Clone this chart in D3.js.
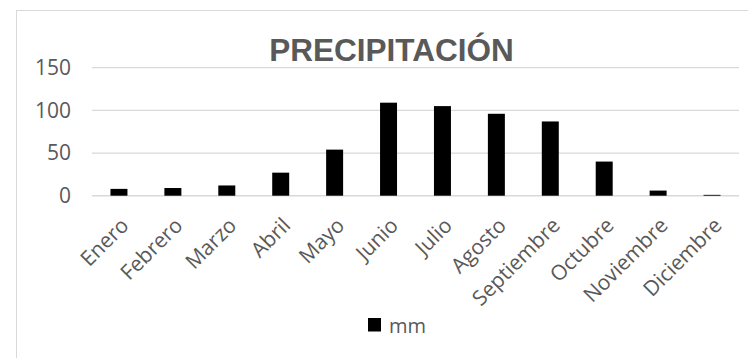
<!DOCTYPE html>
<html>
<head>
<meta charset="utf-8">
<script src="https://cdn.jsdelivr.net/npm/d3@7"></script>
<style>
  html, body { margin: 0; padding: 0; background: #fff; }
  svg { display: block; }
</style>
</head>
<body>
<svg id="chart" width="748" height="358"></svg>
<script>
// Monthly precipitation (mm)
const months = ["Enero", "Febrero", "Marzo", "Abril", "Mayo", "Junio", "Julio",
                "Agosto", "Septiembre", "Octubre", "Noviembre", "Diciembre"];
const rainfall = [8, 9, 12, 27, 54, 109, 105, 96, 87, 40, 6, 1];
const yTicks = [0, 50, 100, 150];
const chartTitle = "PRECIPITACIÓN";
const seriesName = "mm";

const svg = d3.select("#chart");
const textFont = "'Open Sans', 'DejaVu Sans', sans-serif";
const grey = "#595959";
const lineGrey = "#d9d9d9";

// Chart-area frame
svg.append("rect")
  .attr("x", 16.5).attr("y", 10.5)
  .attr("width", 760).attr("height", 360)
  .attr("fill", "#fff").attr("stroke", lineGrey).attr("stroke-width", 1);

const plot = { left: 92, right: 739, top: 67.7, bottom: 195.7 };

const x = d3.scaleBand()
  .domain(months)
  .range([plot.left, plot.right])
  .paddingInner(0.685)
  .paddingOuter(0.3425);

const y = d3.scaleLinear()
  .domain([0, 150])
  .range([plot.bottom, plot.top]);

// Horizontal gridlines (including the baseline)
svg.append("g")
  .selectAll("line")
  .data(yTicks)
  .join("line")
  .attr("x1", plot.left).attr("x2", plot.right)
  .attr("y1", d => y(d)).attr("y2", d => y(d))
  .attr("stroke", lineGrey)
  .attr("stroke-width", d => d === 0 ? 1.5 : 1.3);

// Y axis labels
const yAxis = d3.axisLeft(y).tickValues(yTicks).tickSize(0).tickPadding(0);
svg.append("g")
  .attr("transform", `translate(${plot.left - 21},0)`)
  .call(yAxis)
  .call(g => g.select(".domain").remove())
  .call(g => g.selectAll("text")
    .attr("fill", grey)
    .style("font-family", textFont)
    .style("font-size", "21px"));

// Bars
svg.append("g")
  .selectAll("rect")
  .data(months.map((m, i) => ({ month: m, value: rainfall[i] })))
  .join("rect")
  .attr("x", d => x(d.month))
  .attr("y", d => y(d.value))
  .attr("width", x.bandwidth())
  .attr("height", d => y(0) - y(d.value))
  .attr("fill", "#000");

// X axis labels, rotated
const xAxis = d3.axisBottom(x).tickSize(0).tickPadding(0);
svg.append("g")
  .attr("transform", `translate(0,${plot.bottom})`)
  .call(xAxis)
  .call(g => g.select(".domain").remove())
  .call(g => g.selectAll("text")
    .attr("fill", grey)
    .style("font-family", textFont)
    .style("font-size", "21px")
    .attr("text-anchor", "end")
    .attr("dy", null)
    .attr("y", 0)
    .attr("transform", "translate(11,31) rotate(-45)"));

// Title
svg.append("text")
  .attr("x", 391.5).attr("y", 61)
  .attr("text-anchor", "middle")
  .attr("fill", grey)
  .style("font-family", "'Liberation Sans', Arial, sans-serif")
  .style("font-weight", "bold")
  .style("font-size", "31.5px")
  .text(chartTitle);

// Legend
const legend = svg.append("g").attr("transform", "translate(368,318)");
legend.append("rect")
  .attr("width", 13).attr("height", 13.5)
  .attr("fill", "#000");
legend.append("text")
  .attr("x", 21).attr("y", 15.3)
  .attr("fill", grey)
  .style("font-family", textFont)
  .style("font-size", "20px")
  .text(seriesName);
</script>
</body>
</html>
